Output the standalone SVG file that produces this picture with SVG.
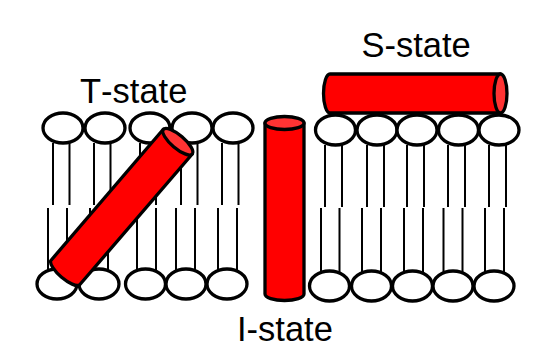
<svg xmlns="http://www.w3.org/2000/svg" width="552" height="352" viewBox="0 0 552 352">
  <style>
    text { font-family: "Liberation Sans", Arial, sans-serif; font-size: 34.5px; fill: #000; font-kerning: none; }
    .tail { stroke: #000; stroke-width: 2; fill: none; }
    .head { fill: #fff; stroke: #000; stroke-width: 3.300; }
    .body { fill: #f00; stroke: #000; stroke-width: 3.300; stroke-linejoin: round; }
    .cap { fill: #f33; stroke: #000; stroke-width: 3.300; }
  </style>
  <rect width="552" height="352" fill="#fff"/>

  <g id="connectors">
    <!-- left bilayer, upper leaflet tails -->
    <path class="tail" d="M53 143V205M69.500 143V205M94 143V205M110.500 143V205M140 143V205M156 143V205M181 143V205M197.500 143V205M222 143V205M238.500 143V205"/>
    <!-- left bilayer, lower leaflet tails -->
    <path class="tail" d="M48 208V270M67 208V270M90 208V270M108 208V270M137 208V270M156 208V270M176 208V270M195 208V270M218 208V270M237 208V270"/>
    <!-- right bilayer, upper leaflet tails -->
    <path class="tail" d="M325 145V207M342 145V207M367 145V207M384 145V207M407 145V207M424 145V207M448 145V207M465 145V207M489 145V207M506 145V207"/>
    <!-- right bilayer, lower leaflet tails -->
    <path class="tail" d="M321 208V272M339.500 208V272M362 208V272M381 208V272M404 208V272M423 208V272M443.500 208V272M462.500 208V272M485 208V272M504 208V272"/>
  </g>

  <g id="left-upper-heads">
    <ellipse class="head" cx="63" cy="128" rx="20" ry="15"/>
    <ellipse class="head" cx="105" cy="128" rx="20" ry="15"/>
    <ellipse class="head" cx="150" cy="128" rx="20" ry="15"/>
    <ellipse class="head" cx="192" cy="128" rx="20" ry="15"/>
    <ellipse class="head" cx="233" cy="128" rx="20" ry="15"/>
  </g>
  <g id="left-lower-heads">
    <ellipse class="head" cx="57" cy="284" rx="20" ry="15"/>
    <ellipse class="head" cx="99" cy="284" rx="20" ry="15"/>
    <ellipse class="head" cx="145.500" cy="284" rx="20" ry="15"/>
    <ellipse class="head" cx="186" cy="284" rx="20" ry="15"/>
    <ellipse class="head" cx="227" cy="284" rx="20" ry="15"/>
  </g>
  <g id="right-upper-heads">
    <ellipse class="head" cx="335.500" cy="130" rx="20" ry="15"/>
    <ellipse class="head" cx="377" cy="130" rx="20" ry="15"/>
    <ellipse class="head" cx="417" cy="130" rx="20" ry="15"/>
    <ellipse class="head" cx="458.500" cy="130" rx="20" ry="15"/>
    <ellipse class="head" cx="499" cy="130" rx="20" ry="15"/>
  </g>
  <g id="right-lower-heads">
    <ellipse class="head" cx="329.500" cy="286" rx="20" ry="15"/>
    <ellipse class="head" cx="371.500" cy="286" rx="20" ry="15"/>
    <ellipse class="head" cx="412.500" cy="286" rx="20" ry="15"/>
    <ellipse class="head" cx="453" cy="286" rx="20" ry="15"/>
    <ellipse class="head" cx="494" cy="286" rx="20" ry="15"/>
  </g>

  <g id="t-state-helix">
    <path class="body" d="M163.300 129.300L50.700 260.700A19 6.500 40.400 0 0 79.500 285L192.300 154Z"/>
    <ellipse class="cap" cx="177.800" cy="141.700" rx="19" ry="6.500" transform="rotate(40.400 177.800 141.700)"/>
    <text x="80" y="102.500">T-state</text>
  </g>

  <g id="i-state-helix">
    <path class="body" d="M265 123V294A19.500 6.500 0 0 0 304 294V123Z"/>
    <ellipse class="cap" cx="284.500" cy="123" rx="19.500" ry="6.500"/>
    <text x="237" y="341">I-state</text>
  </g>

  <g id="s-state-helix">
    <path class="body" d="M500.500 74H330A6.500 19.500 0 0 0 330 113H500.500Z"/>
    <ellipse class="cap" cx="500.500" cy="93.500" rx="6.500" ry="19.500"/>
    <text x="361.500" y="57">S-state</text>
  </g>
</svg>
